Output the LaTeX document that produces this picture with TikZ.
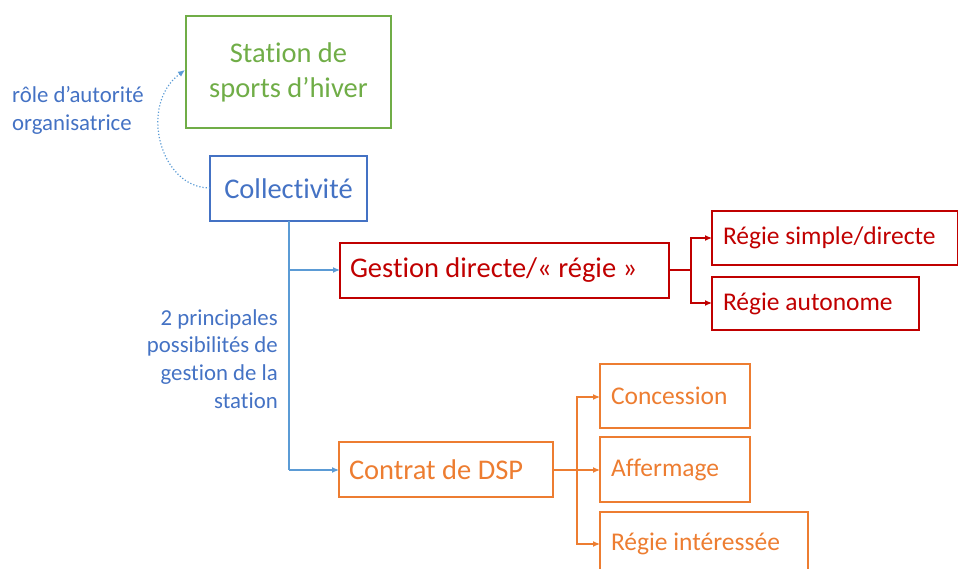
\documentclass[tikz,border=0pt]{standalone}
\usepackage{fontspec}
\setmainfont[Ligatures={NoCommon}]{Carlito}
\usetikzlibrary{arrows.meta}
\definecolor{cgreen}{HTML}{70AD47}
\definecolor{cblue}{HTML}{4472C4}
\definecolor{clblue}{HTML}{5B9BD5}
\definecolor{cred}{HTML}{C00000}
\definecolor{corange}{HTML}{ED7D31}
\tikzset{
  box/.style={draw, line width=1.2pt, anchor=north west, inner sep=0pt, outer sep=0pt},
  bigtxt/.style={font=\fontsize{28.5}{35}\selectfont},
  subtxt/.style={font=\fontsize{25.5}{31}\selectfont},
  lbl/.style={font=\fontsize{22.8}{27.8}\selectfont, text=cblue, inner sep=0pt},
  arr/.style={line width=1.2pt, -{Latex[length=7pt,width=6pt]}},
}
\begin{document}
\begin{tikzpicture}[x=1pt,y=-1pt]
\useasboundingbox (0,0) rectangle (958,569);
\begin{scope}
\clip (0,0) rectangle (958,569);
% boxes
\node[box, bigtxt, cgreen, minimum width=205pt, minimum height=112pt, align=center] (station) at (186,16) {Station de\\sports d’hiver};
\node[box, bigtxt, cblue, minimum width=157pt, minimum height=65pt] (coll) at (210,156) {Collectivité};
\node[box, bigtxt, cred, text width=309pt, inner xsep=10pt, minimum height=55pt, align=flush left] (gest) at (340,243) {Gestion directe/« régie »};
\node[box, subtxt, cred, text width=224pt, inner xsep=11pt, minimum height=54pt, align=flush left] (rs) at (712,211) {Régie simple/directe};
\node[box, subtxt, cred, text width=185pt, inner xsep=11pt, minimum height=53pt, align=flush left] (ra) at (712,277) {Régie autonome};
\node[box, bigtxt, corange, text width=194pt, inner xsep=10pt, minimum height=55pt, align=flush left] (dsp) at (339,442) {Contrat de DSP};
\node[box, subtxt, corange, text width=128pt, inner xsep=11pt, minimum height=64pt, align=flush left] (conc) at (600,364) {Concession};
\node[box, subtxt, corange, text width=128pt, inner xsep=11pt, minimum height=65pt, align=flush left] (aff) at (600,437) {Affermage};
\node[box, subtxt, corange, text width=186pt, inner xsep=11pt, minimum height=64pt, align=flush left] (ri) at (600,512) {Régie intéressée};
% labels
\node[lbl, anchor=north west, align=flush left] (l1) at (12,86) {rôle d’autorité\\organisatrice};
\node[lbl, anchor=north east, align=flush right] (l2) at (278,309) {2 principales\\possibilités de\\gestion de la\\station};
% connectors
\coordinate (cb) at (289,221);
\draw[clblue, line width=1.2pt] (coll.south -| cb) -- (289,470);
\draw[arr, clblue] (289,270) -- (gest.west |- 0,270);
\draw[arr, clblue] (289,470) -- (dsp.west |- 0,470);
\draw[cred, line width=1.2pt] (gest.east |- 0,270) -- (691,270);
\draw[arr, cred] (691,270) |- (rs.west |- 0,238);
\draw[arr, cred] (691,270) |- (ra.west |- 0,303);
\draw[corange, line width=1.2pt] (dsp.east |- 0,470) -- (577,470);
\draw[arr, corange] (577,470) |- (conc.west |- 0,397);
\draw[arr, corange] (577,470) -- (aff.west |- 0,470);
\draw[arr, corange] (577,470) |- (ri.west |- 0,544);
\draw[clblue, line width=1.2pt, dotted, -{Latex[length=7pt,width=6pt]}] (coll.west |- 0,188) .. controls (160,188) and (138,105) .. (185,70);
\end{scope}
\end{tikzpicture}
\end{document}
